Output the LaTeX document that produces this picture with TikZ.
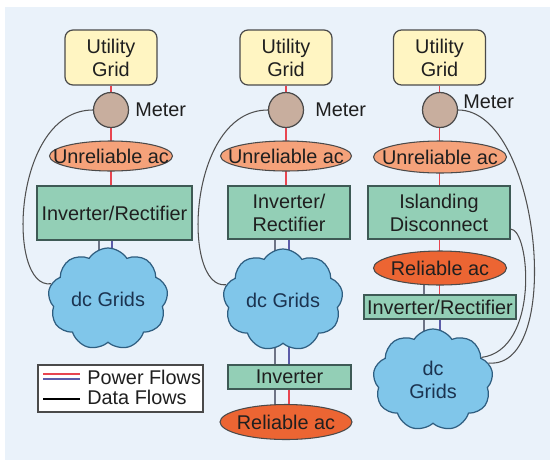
\documentclass[tikz,border=0pt]{standalone}
\usepackage{fontspec}
\setmainfont{Liberation Sans}
\usetikzlibrary{shapes.geometric,shapes.symbols}

\pgfdeclarelayer{paper}
\pgfdeclarelayer{back}
\pgfsetlayers{paper,back,main}

\definecolor{panel}{HTML}{EAF2FA}
\definecolor{gridyellow}{HTML}{FFF5C2}
\definecolor{boxline}{HTML}{4A4A4A}
\definecolor{metertan}{HTML}{C8AE9E}
\definecolor{lightorange}{HTML}{F5A27A}
\definecolor{deeporange}{HTML}{EC6533}
\definecolor{convgreen}{HTML}{93CFB6}
\definecolor{convline}{HTML}{3E5A55}
\definecolor{cloudblue}{HTML}{80C6EA}
\definecolor{cloudline}{HTML}{2F5E80}
\definecolor{cloudtext}{HTML}{1B3350}
\definecolor{powerred}{HTML}{E84550}
\definecolor{powerblue}{HTML}{5C5CA8}
\definecolor{datagray}{HTML}{505050}
\definecolor{stubgray}{HTML}{6E7486}

% keep wide labels from blowing up round shapes
\newcommand{\squeeze}[1]{\makebox[1cm]{#1}}

\tikzset{
  utility/.style={draw=boxline,fill=gridyellow,rounded corners=0.16cm,line width=0.7pt,
    minimum width=1.84cm,minimum height=1.1cm,align=center,inner sep=0pt},
  meter/.style={circle,draw=boxline,fill=metertan,line width=0.7pt,minimum size=0.7cm,inner sep=0pt},
  unrel/.style={ellipse,draw=boxline,fill=lightorange,line width=0.6pt,
    minimum width=2.56cm,minimum height=0.6cm,inner sep=0pt},
  rel/.style={ellipse,draw=boxline,fill=deeporange,line width=0.6pt,
    minimum width=2.64cm,minimum height=0.7cm,inner sep=0pt},
  conv/.style={rectangle,draw=convline,fill=convgreen,line width=0.7pt,align=center,inner sep=1pt},
  dcgrid/.style={cloud,cloud puffs=9,cloud puff arc=115,cloud ignores aspect,draw=cloudline,fill=cloudblue,line width=0.7pt,
    minimum width=2.4cm,minimum height=2.04cm,inner sep=0pt,align=center,text=cloudtext},
  power/.style={line width=1.1pt,draw=powerred},
  dcpower/.style={line width=1.1pt,draw=powerblue},
  data/.style={line width=0.6pt,draw=datagray},
  datastub/.style={line width=0.9pt,draw=stubgray},
}

\begin{document}
\begin{tikzpicture}[x=0.02cm,y=-0.02cm,font=\fontsize{11.3}{13}\selectfont,text=black!88]
\useasboundingbox (0,0) rectangle (550,460);
\begin{pgfonlayer}{paper}
  \fill[white] (0,0) rectangle (550,460);
  \fill[panel] (5,7) rectangle (550,460);
\end{pgfonlayer}

% column 1: grid, converter, dc grid
\node[utility] (grid1) at (111,57.5) {Utility\\Grid};
\node[meter] (meter1) at (111,110) {};
\node[anchor=west,inner sep=0pt] (mlabel1) at (135,110) {Meter};
\node[unrel,minimum width=2.46cm] (unrel1) at (111,156) {\squeeze{Unreliable ac}};
\node[conv,minimum width=3.1cm,minimum height=1.08cm] (ir1) at (114.5,213) {Inverter/Rectifier};
\node[dcgrid] (dc1) at (108,299) {\squeeze{dc Grids}};

% column 2: adds an inverter for reliable ac
\node[utility] (grid2) at (286,57.5) {Utility\\Grid};
\node[meter] (meter2) at (286,110) {};
\node[anchor=west,inner sep=0pt] (mlabel2) at (315,110) {Meter};
\node[unrel,minimum width=2.62cm] (unrel2) at (286,156) {\squeeze{Unreliable ac}};
\node[conv,minimum width=2.44cm,minimum height=1.06cm] (ir2) at (289,212.5) {Inverter/\\Rectifier};
\node[dcgrid] (dc2) at (283,300) {\squeeze{dc Grids}};
\node[conv,minimum width=2.46cm,minimum height=0.48cm] (inv2) at (289.5,377) {Inverter};
\node[rel] (rel2) at (286,422) {\squeeze{Reliable ac}};

% column 3: islanding before the converter
\node[utility] (grid3) at (439.5,57.5) {Utility\\Grid};
\node[meter] (meter3) at (440,110) {};
\node[anchor=west,inner sep=0pt] (mlabel3) at (463,102) {Meter};
\node[unrel,minimum width=2.66cm,minimum height=0.64cm] (unrel3) at (440,157) {\squeeze{Unreliable ac}};
\node[conv,minimum width=2.84cm,minimum height=1.06cm] (isl3) at (439,212.5) {Islanding\\Disconnect};
\node[rel,minimum width=2.66cm,minimum height=0.68cm] (rel3) at (440,268) {\squeeze{Reliable ac}};
\node[conv,minimum width=3.04cm,minimum height=0.48cm] (ir3) at (440,307) {Inverter/Rectifier};
\node[dcgrid] (dc3) at (433,380) {dc\\Grids};

\begin{pgfonlayer}{back}
  % power paths
  \draw[power] (grid1) -- (grid1 |- ir1);
  \draw[dcpower] ([xshift=0.02cm]meter1 |- ir1) -- ([xshift=0.02cm]meter1 |- dc1);
  \draw[datastub] ([xshift=-0.24cm]meter1 |- ir1) -- ([xshift=-0.24cm]meter1 |- dc1);

  \draw[power] (grid2) -- (grid2 |- ir2);
  \draw[dcpower] ([xshift=0.06cm]meter2 |- ir2) -- ([xshift=0.06cm]meter2 |- inv2);
  \draw[power] ([xshift=0.06cm]meter2 |- inv2) -- ([xshift=0.06cm]meter2 |- rel2);
  \draw[datastub] ([xshift=-0.22cm]meter2 |- ir2) -- ([xshift=-0.22cm]meter2 |- rel2);

  \draw[power] (grid3) -- (grid3 |- ir3);
  \draw[dcpower] (ir3) -- (ir3 |- dc3);
  \draw[datastub] ([xshift=-0.32cm]rel3.center) -- ([xshift=-0.32cm]rel3 |- dc3);
\end{pgfonlayer}

% data links
\draw[data] (meter1.west) .. controls (12,110) and (6,290) .. (dc1.165);
\draw[data] (meter2.west) .. controls (187,110) and (181,290) .. (dc2.165);
\draw[data] (meter3.east) .. controls (540,110) and (565,370) .. (dc3.17);
\draw[data] (isl3.-13) .. controls (530,229) and (540,350) .. (dc3.25);

% key
\node[draw=boxline,fill=white,line width=0.6pt,minimum width=3.3cm,minimum height=0.94cm] (legend) at (120.5,388.5) {};
\draw[power] (43,374) -- (80,374);
\draw[dcpower] (43,379) -- (80,379);
\draw[data,draw=black] (43,399) -- (80,399);
\node[anchor=west,inner sep=0pt] (powerkey) at (87,377) {Power Flows};
\node[anchor=west,inner sep=0pt] (datakey) at (87,397) {Data Flows};
\end{tikzpicture}
\end{document}
